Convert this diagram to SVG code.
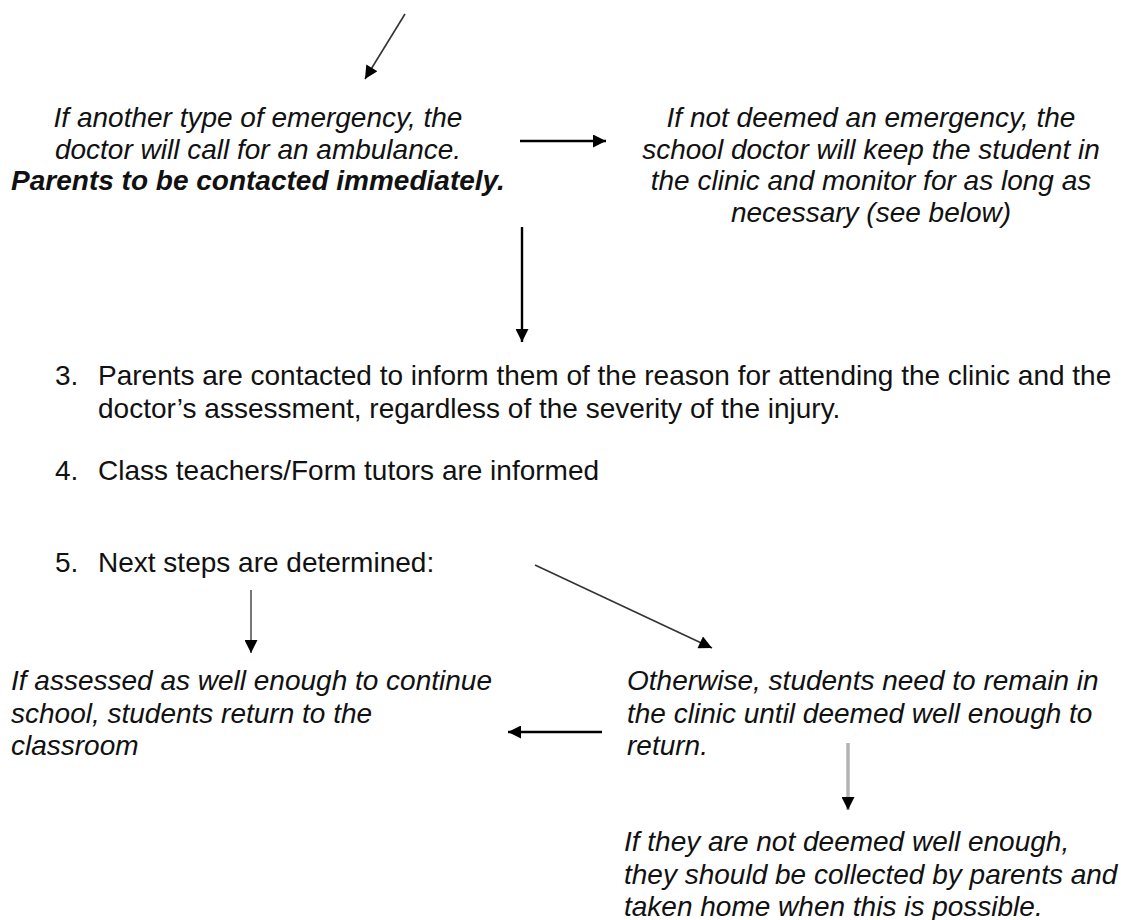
<svg xmlns="http://www.w3.org/2000/svg" width="1121" height="920" viewBox="0 0 1121 920">
<style>
text{font-family:"Liberation Sans",Arial,sans-serif;font-size:28px;fill:#111}
.it{font-style:italic}
.b{font-weight:bold}
.c{text-anchor:middle}
.ln{fill:none}
</style>
<defs>
<marker id="ah" viewBox="0 0 10 10" refX="10" refY="5" markerWidth="14" markerHeight="13" markerUnits="userSpaceOnUse" orient="auto">
<path d="M0,0 L10,5 L0,10 z" fill="#000"/>
</marker>
</defs>
<rect width="1121" height="920" fill="#fff"/>
<g id="connectors" class="ln">
<line x1="405" y1="14" x2="365" y2="79" stroke="#333" stroke-width="1.6" marker-end="url(#ah)"/>
<line x1="520" y1="141" x2="606" y2="141" stroke="#000" stroke-width="2.4" marker-end="url(#ah)"/>
<line x1="522" y1="227" x2="522" y2="342" stroke="#000" stroke-width="2.4" marker-end="url(#ah)"/>
<line x1="251" y1="590" x2="251" y2="653" stroke="#777" stroke-width="2" marker-end="url(#ah)"/>
<line x1="535" y1="565" x2="712" y2="648" stroke="#333" stroke-width="1.6" marker-end="url(#ah)"/>
<line x1="602" y1="732" x2="508" y2="732" stroke="#000" stroke-width="2.6" marker-end="url(#ah)"/>
<line x1="848" y1="743" x2="848" y2="810" stroke="#b3b3b3" stroke-width="3.5" marker-end="url(#ah)"/>
</g>
<g id="node-ambulance">
<text class="it c" x="258" y="127">If another type of emergency, the</text>
<text class="it c" x="258" y="159">doctor will call for an ambulance.</text>
<text class="it b c" x="258" y="190">Parents to be contacted immediately.</text>
</g>
<g id="node-not-emergency">
<text class="it c" x="871" y="127">If not deemed an emergency, the</text>
<text class="it c" x="871" y="159">school doctor will keep the student in</text>
<text class="it c" x="871" y="190">the clinic and monitor for as long as</text>
<text class="it c" x="871" y="222">necessary (see below)</text>
</g>
<g id="node-step3">
<text x="55" y="385">3.</text>
<text x="98" y="385">Parents are contacted to inform them of the reason for attending the clinic and the</text>
<text x="98" y="418">doctor’s assessment, regardless of the severity of the injury.</text>
</g>
<g id="node-step4">
<text x="55" y="480">4.</text>
<text x="98" y="480">Class teachers/Form tutors are informed</text>
</g>
<g id="node-step5">
<text x="55" y="572">5.</text>
<text x="98" y="572">Next steps are determined:</text>
</g>
<g id="node-return">
<text class="it" x="11" y="690">If assessed as well enough to continue</text>
<text class="it" x="11" y="723">school, students return to the</text>
<text class="it" x="11" y="755">classroom</text>
</g>
<g id="node-remain">
<text class="it" x="627" y="690">Otherwise, students need to remain in</text>
<text class="it" x="627" y="723">the clinic until deemed well enough to</text>
<text class="it" x="627" y="755">return.</text>
</g>
<g id="node-collected">
<text class="it" x="624" y="851">If they are not deemed well enough,</text>
<text class="it" x="624" y="884">they should be collected by parents and</text>
<text class="it" x="624" y="916">taken home when this is possible.</text>
</g>
</svg>
